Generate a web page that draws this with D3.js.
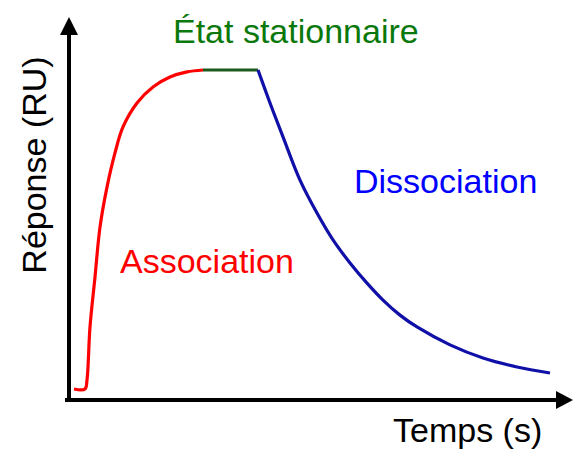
<!DOCTYPE html>
<html><head><meta charset="utf-8">
<script src="https://cdn.jsdelivr.net/npm/d3@7"></script>
<style>html,body{margin:0;padding:0;background:#fff;}svg{display:block;}</style>
</head><body>
<script>
// Data (arbitrary units: time, response %)
const assocTime = [4, 15, 17, 20, 25, 30, 37, 45, 53, 67, 83, 100, 117, 133];
const assocResp = [0.3, 0.3, 3.1, 19.7, 35.3, 50.9, 63.4, 74.1, 82.2, 89.7, 94.7, 97.8, 99.4, 100];
const steadyTime = [133, 188];
const steadyResp = [100, 100];
const dissocTime = [188, 200, 213, 230, 247, 263, 280, 297, 313, 330, 347, 380, 413, 447, 480];
const dissocResp = [100, 89.7, 79.1, 65.6, 55.3, 46.9, 39.7, 33.4, 28.1, 23.4, 19.7, 14.1, 10.0, 7.2, 5.3];
const labels = {assoc: "Association", steady: "État stationnaire", dissoc: "Dissociation", x: "Temps (s)", y: "Réponse (RU)"};

const W = 573, H = 450;
const svg = d3.select("body").append("svg").attr("width", W).attr("height", H);
const x = d3.scaleLinear().domain([0, 500]).range([70, 570]);
const y = d3.scaleLinear().domain([0, 100]).range([390, 70]);
const font = "'Liberation Sans', Arial, Helvetica, sans-serif";

// Axes
svg.append("line").attr("x1", 69).attr("y1", 402).attr("x2", 69).attr("y2", 30)
  .attr("stroke", "#000").attr("stroke-width", 4);
svg.append("path").attr("d", "M69,17 L60,35 L78,35 Z").attr("fill", "#000");
svg.append("line").attr("x1", 65).attr("y1", 400).attr("x2", 560).attr("y2", 400)
  .attr("stroke", "#000").attr("stroke-width", 4);
svg.append("path").attr("d", "M573,400 L556,391 L556,409 Z").attr("fill", "#000");

const line = d3.line().x(d => x(d[0])).y(d => y(d[1])).curve(d3.curveCatmullRom.alpha(0.5));
const zip = (a, b) => a.map((v, i) => [v, b[i]]);

svg.append("path").datum(zip(assocTime, assocResp)).attr("d", line)
  .attr("fill", "none").attr("stroke", "#ff0000").attr("stroke-width", 3.2).attr("stroke-linejoin", "round");
svg.append("path").datum(zip(steadyTime, steadyResp)).attr("d", line)
  .attr("fill", "none").attr("stroke", "#1e5a1e").attr("stroke-width", 3.2);
svg.append("path").datum(zip(dissocTime, dissocResp)).attr("d", line)
  .attr("fill", "none").attr("stroke", "#1010a8").attr("stroke-width", 3.2).attr("stroke-linejoin", "round");

const txt = (t, tx, ty, col) => svg.append("text").attr("x", tx).attr("y", ty).text(t)
  .attr("fill", col).attr("font-family", font).attr("font-size", 34);
txt(labels.assoc, 120, 273, "#ff0000");
txt(labels.dissoc, 354, 193, "#0000ff");
txt(labels.steady, 173, 43, "#0a780a");
txt(labels.x, 393, 442, "#000");
svg.append("text").attr("transform", "translate(46,165) rotate(-90)").attr("text-anchor", "middle")
  .text(labels.y).attr("fill", "#000").attr("font-family", font).attr("font-size", 34);
</script>
</body></html>
